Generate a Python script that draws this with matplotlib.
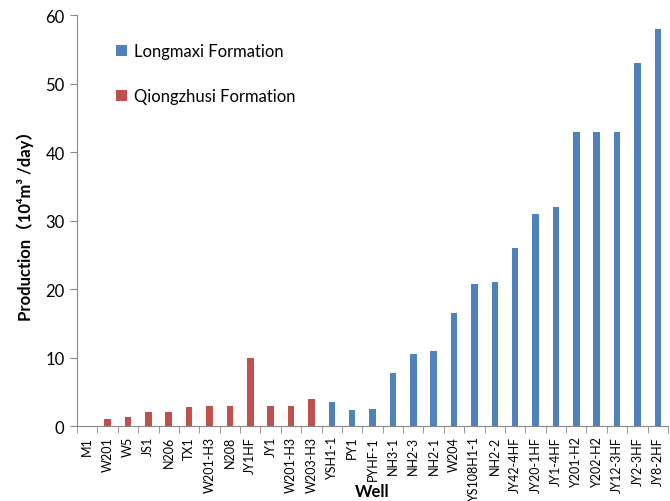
import matplotlib
matplotlib.use("Agg")
import matplotlib.pyplot as plt
import numpy as np

plt.rcParams['font.family'] = ['Lato', 'Noto Sans CJK SC', 'DejaVu Sans']

wells = ["M1", "W201", "W5", "JS1", "N206", "TX1", "W201-H3", "N208", "JY1HF", "JY1",
         "W201-H3", "W203-H3", "YSH1-1", "PY1", "PYHF-1", "NH3-1", "NH2-3", "NH2-1", "W204",
         "YS108H1-1", "NH2-2", "JY42-4HF", "JY20-1HF", "JY1-4HF", "Y201-H2", "Y202-H2",
         "JY12-3HF", "JY2-3HF", "JY8-2HF"]
production = [0, 1.0, 1.4, 2.0, 2.0, 2.8, 3.0, 3.0, 10.0, 3.0,
              3.0, 4.0, 3.5, 2.3, 2.5, 7.7, 10.5, 11.0, 16.5,
              20.7, 21.0, 26.0, 31.0, 32.0, 43.0, 43.0,
              43.0, 53.0, 58.0]
formation = ["Q"] * 12 + ["L"] * 17

fig = plt.figure(figsize=(6.7, 5.02), dpi=100)
ax = fig.add_axes([0.115, 0.149, 0.882, 0.819])

x = np.arange(len(wells))
blue = "#4F81BD"
red = "#C0504D"
lv = [v if f == "L" else np.nan for v, f in zip(production, formation)]
qv = [v if f == "Q" else np.nan for v, f in zip(production, formation)]
ax.bar(x, lv, width=0.32, color=blue, label="Longmaxi Formation")
ax.bar(x, qv, width=0.32, color=red, label="Qiongzhusi Formation")

ax.set_xlim(-0.5, len(wells) - 0.5)
ax.set_ylim(0, 60)
ax.set_yticks(range(0, 61, 10))
ax.set_xticks(x)
ax.set_xticklabels(wells, rotation=90, fontsize=9)
ax.set_xticks(np.arange(-0.5, len(wells), 1), minor=True)
ax.tick_params(axis='x', which='major', length=0, pad=7)
ax.tick_params(axis='x', which='minor', length=5, color='#888888')
ax.tick_params(axis='y', labelsize=12, length=5, color='#888888', pad=4)

for s in ["top", "right"]:
    ax.spines[s].set_visible(False)
for s in ["left", "bottom"]:
    ax.spines[s].set_color('#888888')

ax.set_ylabel("Production（10⁴m³ /day）", fontsize=12, fontweight='bold', labelpad=8)
fig.text(0.555, 0.02, "Well", fontsize=12, fontweight='bold', ha='center', va='center')

ax.legend(loc='upper left', bbox_to_anchor=(0.04, 0.968), frameon=False, fontsize=12,
          handlelength=0.7, handleheight=0.7, handletextpad=0.4, labelspacing=1.75)

fig.savefig("out.png", dpi=100)
